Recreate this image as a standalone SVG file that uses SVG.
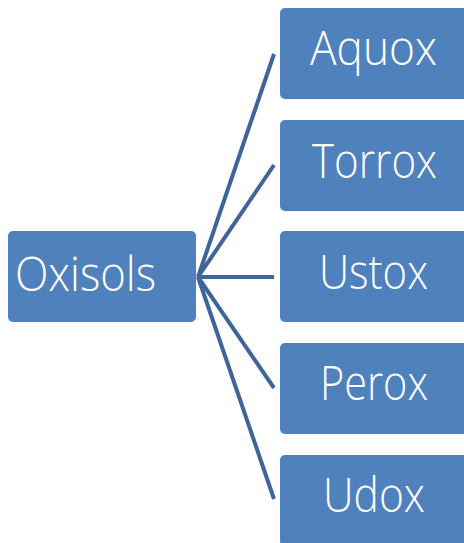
<svg xmlns="http://www.w3.org/2000/svg" width="464" height="543" viewBox="0 0 464 543">
<style>
.box{fill:#4F81BD;}
.t{fill:#FFFFFF;font-family:"Open Sans","Liberation Sans",sans-serif;font-size:48px;font-weight:300;}
.c{stroke:#3E6498;stroke-width:4;fill:none;stroke-linecap:butt;}
</style>
<rect width="464" height="543" fill="#FFFFFF"/>
<g id="connectors">
<line class="c" x1="198" y1="277" x2="274" y2="54"/>
<line class="c" x1="198" y1="277" x2="274" y2="165"/>
<line class="c" x1="198" y1="277" x2="274" y2="277"/>
<line class="c" x1="198" y1="277" x2="274" y2="388"/>
<line class="c" x1="198" y1="277" x2="274" y2="499"/>
</g>
<g id="oxisols">
<rect class="box" x="8" y="231" width="188" height="91" rx="5"/>
<text class="t" x="15" y="291" textLength="141" lengthAdjust="spacingAndGlyphs">Oxisols</text>
</g>
<g id="aquox">
<rect class="box" x="280" y="8" width="188" height="91" rx="5"/>
<text class="t" x="310" y="65" textLength="127" lengthAdjust="spacingAndGlyphs">Aquox</text>
</g>
<g id="torrox">
<rect class="box" x="280" y="120" width="188" height="91" rx="5"/>
<text class="t" x="312" y="178" textLength="125" lengthAdjust="spacingAndGlyphs">Torrox</text>
</g>
<g id="ustox">
<rect class="box" x="280" y="231" width="188" height="91" rx="5"/>
<text class="t" x="319" y="289" textLength="109" lengthAdjust="spacingAndGlyphs">Ustox</text>
</g>
<g id="perox">
<rect class="box" x="280" y="343" width="188" height="91" rx="5"/>
<text class="t" x="320" y="400" textLength="108" lengthAdjust="spacingAndGlyphs">Perox</text>
</g>
<g id="udox">
<rect class="box" x="280" y="455" width="188" height="91" rx="5"/>
<text class="t" x="323" y="512" textLength="102" lengthAdjust="spacingAndGlyphs">Udox</text>
</g>
</svg>
